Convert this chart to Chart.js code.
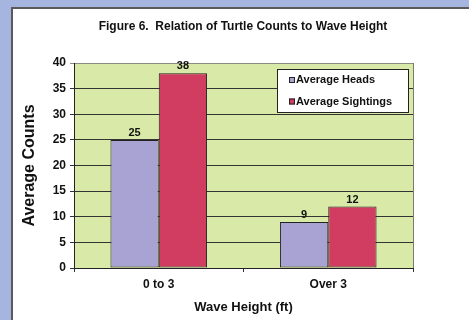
<!DOCTYPE html>
<html>
<head>
<meta charset="utf-8">
<script src="https://cdn.jsdelivr.net/npm/chart.js@4/dist/chart.umd.min.js"></script>
<style>
  html, body { margin: 0; padding: 0; width: 469px; height: 320px; overflow: hidden; background: #a6b4e0; }
  #panel { position: absolute; left: 11px; top: 7px; right: 0; bottom: 0; background: #ffffff;
           border-left: 2px solid #5a5a5a; border-top: 2px solid #5a5a5a; }
  #wrap { position: absolute; left: 0; top: 0; width: 469px; height: 320px; }
</style>
</head>
<body>
<div id="panel"></div>
<div id="wrap"><canvas id="chart" width="469" height="320"></canvas></div>
<script>
// Turtle survey: counts grouped by wave height
const categories = ['0 to 3', 'Over 3'];
const averageHeads = [25, 9];
const averageSightings = [38, 12];
const seriesNames = ['Average Heads', 'Average Sightings'];
const yMin = 0, yMax = 40, yStep = 5;
const chartTitle = 'Figure 6.  Relation of Turtle Counts to Wave Height';
const yTitle = 'Average Counts';
const xTitle = 'Wave Height (ft)';

const FONT = '"Liberation Sans", Arial, Helvetica, sans-serif';
const INK = '#111111';
const HEADS = '#a9a3d3';
const SIGHT = '#d13c61';
const PLOT_BG = '#d9e9a8';

// plot background, right border, heading text
const framePlugin = {
  id: 'frame',
  beforeDraw(chart) {
    const { ctx, chartArea: a } = chart;
    ctx.save();
    ctx.fillStyle = PLOT_BG;
    ctx.fillRect(a.left, a.top, a.right - a.left, a.bottom - a.top);
    ctx.restore();
  },
  afterDraw(chart) {
    const { ctx, chartArea: a } = chart;
    ctx.save();
    ctx.strokeStyle = '#7a7a70';
    ctx.lineWidth = 1;
    ctx.beginPath();
    ctx.moveTo(a.right + 0.5, a.top);
    ctx.lineTo(a.right + 0.5, a.bottom);
    ctx.stroke();
    ctx.fillStyle = INK;
    ctx.font = 'bold 12px ' + FONT;
    ctx.textAlign = 'center';
    ctx.textBaseline = 'middle';
    ctx.fillText(chartTitle, 243, 27);
    ctx.restore();
  }
};

// value labels above each bar
const valueLabels = {
  id: 'valueLabels',
  afterDatasetsDraw(chart) {
    const { ctx } = chart;
    ctx.save();
    ctx.fillStyle = INK;
    ctx.font = 'bold 11px ' + FONT;
    ctx.textAlign = 'center';
    ctx.textBaseline = 'alphabetic';
    chart.data.datasets.forEach((ds, i) => {
      chart.getDatasetMeta(i).data.forEach((bar, j) => {
        ctx.fillText(String(ds.data[j]), bar.x, bar.y - 4);
      });
    });
    ctx.restore();
  }
};

// boxed legend inside the plot
const boxLegend = {
  id: 'boxLegend',
  afterDraw(chart) {
    const { ctx } = chart;
    const x = 277, y = 69, w = 131, h = 43;
    ctx.save();
    ctx.fillStyle = '#ffffff';
    ctx.fillRect(x, y, w, h);
    ctx.strokeStyle = '#222222';
    ctx.lineWidth = 1;
    ctx.strokeRect(x + 0.5, y + 0.5, w, h);
    ctx.font = 'bold 11px ' + FONT;
    ctx.textBaseline = 'middle';
    ctx.textAlign = 'left';
    chart.data.datasets.forEach((ds, i) => {
      const cy = 80 + i * 21.5;
      ctx.fillStyle = ds.backgroundColor;
      ctx.fillRect(289, cy - 3, 6, 6);
      ctx.strokeStyle = '#222222';
      ctx.strokeRect(289.5, cy - 2.5, 5, 5);
      ctx.fillStyle = INK;
      ctx.fillText(ds.label, 296, cy);
    });
    ctx.restore();
  }
};

new Chart(document.getElementById('chart'), {
  type: 'bar',
  data: {
    labels: categories,
    datasets: [
      { label: seriesNames[0], data: averageHeads, backgroundColor: HEADS,
        borderColor: '#222222', borderWidth: 1, borderSkipped: false },
      { label: seriesNames[1], data: averageSightings, backgroundColor: SIGHT,
        borderColor: '#222222', borderWidth: 1, borderSkipped: false }
    ]
  },
  options: {
    responsive: false,
    animation: false,
    devicePixelRatio: 1,
    layout: { padding: { left: 0, top: 63, right: 56, bottom: 0 } },
    datasets: { bar: { categoryPercentage: 0.57, barPercentage: 1.0 } },
    plugins: {
      legend: { display: false },
      title: { display: false },
      tooltip: { enabled: false }
    },
    scales: {
      x: {
        afterFit(s) { s.height = 52; },
        grid: { drawOnChartArea: false, color: '#333333', tickLength: 4 },
        border: { color: '#222222', width: 1 },
        ticks: { color: INK, font: { family: FONT, size: 12, weight: 'bold' }, padding: 5 },
        title: { display: true, text: xTitle, color: INK,
                 font: { family: FONT, size: 13, weight: 'bold' }, padding: { top: 0, bottom: 5 } }
      },
      y: {
        min: yMin, max: yMax,
        afterFit(s) { s.width = 74; },
        grid: {
          color: (c) => (c.tick && c.tick.value === yMax) ? '#8a8a80' : '#333333',
          tickLength: 4
        },
        border: { color: '#222222', width: 1 },
        ticks: { stepSize: yStep, color: INK, font: { family: FONT, size: 12, weight: 'bold' }, padding: 4 },
        title: { display: true, text: yTitle, color: INK,
                 font: { family: FONT, size: 16, weight: 'bold' }, padding: { top: 20, bottom: 0 } }
      }
    }
  },
  plugins: [framePlugin, valueLabels, boxLegend]
});
</script>
</body>
</html>
